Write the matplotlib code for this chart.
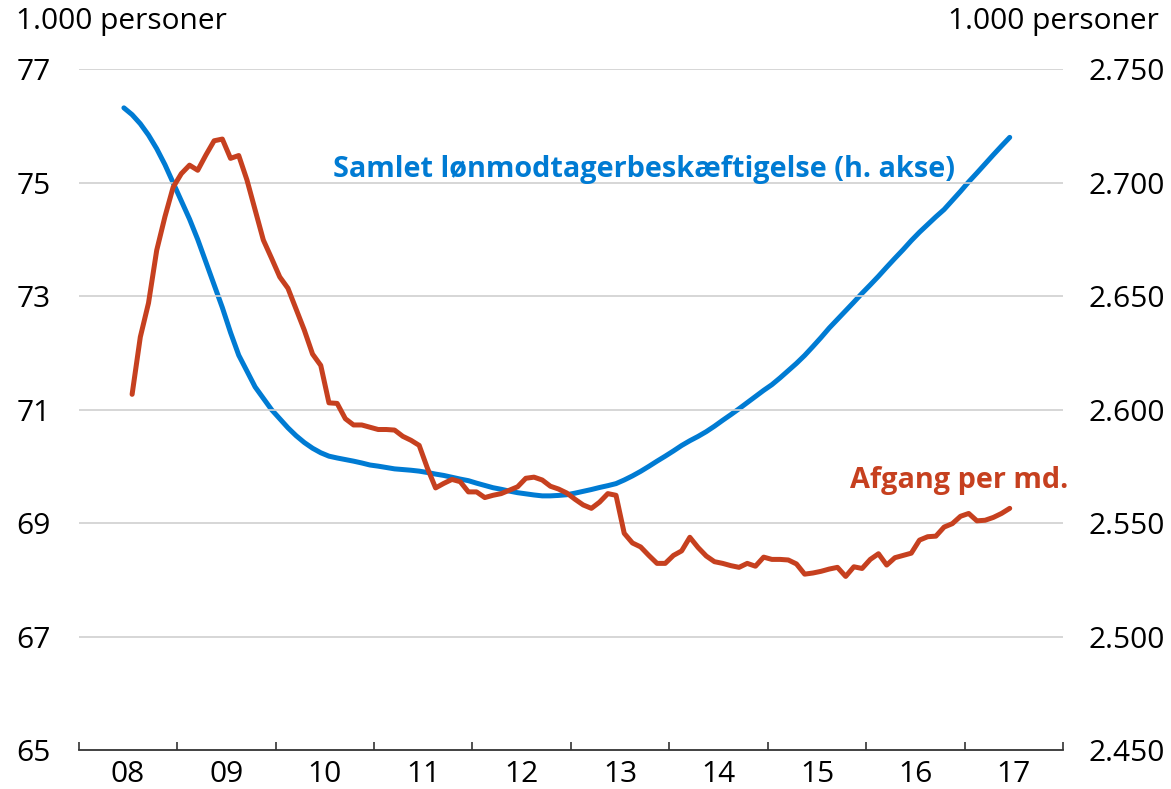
import matplotlib
matplotlib.use("Agg")
import matplotlib.pyplot as plt
import numpy as np

plt.rcParams['font.family'] = ['Open Sans', 'DejaVu Sans']

# Afgang per md. (left axis, 1.000 personer), monthly from Jul 2008
afgang_start = (2008, 7)
afgang = [71.27, 72.28, 72.88, 73.81, 74.40, 74.92, 75.16, 75.31, 75.22, 75.49,
          75.74, 75.77, 75.43, 75.48, 75.05, 74.52, 73.99, 73.67, 73.34, 73.14,
          72.77, 72.40, 71.98, 71.78, 71.12, 71.11, 70.84, 70.73, 70.73, 70.69,
          70.65, 70.65, 70.64, 70.53, 70.46, 70.37, 69.97, 69.62, 69.70, 69.77,
          69.73, 69.55, 69.55, 69.45, 69.49, 69.52, 69.58, 69.64, 69.79, 69.81,
          69.76, 69.65, 69.60, 69.53, 69.42, 69.32, 69.26, 69.37, 69.52, 69.49,
          68.82, 68.65, 68.58, 68.43, 68.29, 68.29, 68.43, 68.51, 68.75, 68.57,
          68.42, 68.32, 68.29, 68.25, 68.22, 68.29, 68.24, 68.40, 68.36, 68.36,
          68.35, 68.28, 68.10, 68.12, 68.15, 68.19, 68.22, 68.06, 68.23, 68.20,
          68.36, 68.46, 68.26, 68.39, 68.43, 68.47, 68.70, 68.76, 68.77, 68.93,
          68.99, 69.12, 69.17, 69.04, 69.05, 69.10, 69.17, 69.26]

# Samlet lønmodtagerbeskæftigelse (right axis, 1.000 personer), monthly from Jun 2008
besk_start = (2008, 6)
besk = [2733, 2730, 2726, 2721, 2715, 2708, 2700, 2692, 2684, 2675,
        2665, 2655, 2645, 2634, 2624, 2617, 2610, 2605, 2600, 2596,
        2592, 2588.5, 2585.5, 2583, 2581, 2579.5, 2578.7, 2578, 2577.3, 2576.5,
        2575.6, 2575.1, 2574.5, 2573.9, 2573.6, 2573.3, 2572.9, 2572.3, 2571.6, 2571.0,
        2570.2, 2569.4, 2568.7, 2567.6, 2566.6, 2565.6, 2564.9, 2564.1, 2563.4, 2562.9,
        2562.4, 2562.0, 2562.0, 2562.2, 2562.5, 2563.2, 2564.0, 2564.8, 2565.7, 2566.5,
        2567.4, 2569.0, 2570.8, 2572.8, 2575.0, 2577.3, 2579.5, 2581.8, 2584.2, 2586.3,
        2588.2, 2590.3, 2592.7, 2595.3, 2597.8, 2600.4, 2603.1, 2605.8, 2608.5, 2611.0,
        2614.0, 2617.2, 2620.4, 2623.9, 2627.8, 2631.8, 2636.0, 2639.8, 2643.6, 2647.4,
        2651.3, 2655.0, 2658.8, 2662.8, 2666.7, 2670.5, 2674.5, 2678.2, 2681.6, 2685.0,
        2688.2, 2692.2, 2696.2, 2700.4, 2704.3, 2708.3, 2712.3, 2716.2, 2720.0]

year_labels = ['08', '09', '10', '11', '12', '13', '14', '15', '16', '17']
left_ticks = [65, 67, 69, 71, 73, 75, 77]
right_ticks = [2450, 2500, 2550, 2600, 2650, 2700, 2750]
right_labels = ['2.450', '2.500', '2.550', '2.600', '2.650', '2.700', '2.750']

RED = '#c6401f'
BLUE = '#007bd3'
FS = 21.5
FSB = 20.8


def month_x(start, n):
    y0, m0 = start
    return np.array([y0 + (m0 - 1 + k + 0.5) / 12.0 for k in range(n)])


fig = plt.figure(figsize=(11.71, 7.89), dpi=100)
ax = fig.add_axes([0.06729, 0.04943, 0.8405, 0.86274])
ax2 = ax.twinx()

x_af = month_x(afgang_start, len(afgang))
x_be = month_x(besk_start, len(besk))

ax.set_zorder(2)
ax.patch.set_visible(False)
ax.plot(x_af, afgang, color=RED, lw=3.6, solid_capstyle='round', solid_joinstyle='round', zorder=3)
ax2.plot(x_be, besk, color=BLUE, lw=3.6, solid_capstyle='round', solid_joinstyle='round', zorder=3)

ax.set_xlim(2008, 2018)
ax.set_ylim(65, 77)
ax2.set_ylim(2450, 2750)

for a in (ax, ax2):
    for s in ['top', 'left', 'right']:
        a.spines[s].set_visible(False)
ax.spines['bottom'].set_color('#333333')
ax.spines['bottom'].set_linewidth(1.3)
ax2.spines['bottom'].set_visible(False)

# gridlines
for v in left_ticks[1:]:
    ax.axhline(v, color='#cfcfcf', lw=1.2, zorder=1)

ax.set_yticks(left_ticks)
ax.set_yticklabels([str(v) for v in left_ticks])
ax.tick_params(axis='y', length=0, pad=20, labelsize=FS)
ax2.set_yticks(right_ticks)
ax2.set_yticklabels(right_labels)
ax2.tick_params(axis='y', length=0, pad=18, labelsize=FS)

ax.set_xticks(np.arange(2008, 2019))
ax.set_xticklabels([])
ax.set_xticks(np.arange(2008.5, 2018.5, 1.0), minor=True)
ax.set_xticklabels(year_labels, minor=True)
ax.tick_params(axis='x', which='major', direction='in', length=6, width=1.2, color='#333333')
ax.tick_params(axis='x', which='minor', length=0, pad=7, labelsize=FS)

fig.text(16 / 1171, 1 - 22 / 789, '1.000 personer', fontsize=FS, ha='left', va='center')
fig.text(1159 / 1171, 1 - 22 / 789, '1.000 personer', fontsize=FS, ha='right', va='center')

fig.text(333 / 1171, 1 - 177 / 789, 'Samlet lønmodtagerbeskæftigelse (h. akse)', fontsize=FSB,
         fontweight='bold', color=BLUE, ha='left', va='baseline')
fig.text(1068 / 1171, 1 - 488 / 789, 'Afgang per md.', fontsize=FSB,
         fontweight='bold', color=RED, ha='right', va='baseline')

fig.savefig('out.png', dpi=100)
